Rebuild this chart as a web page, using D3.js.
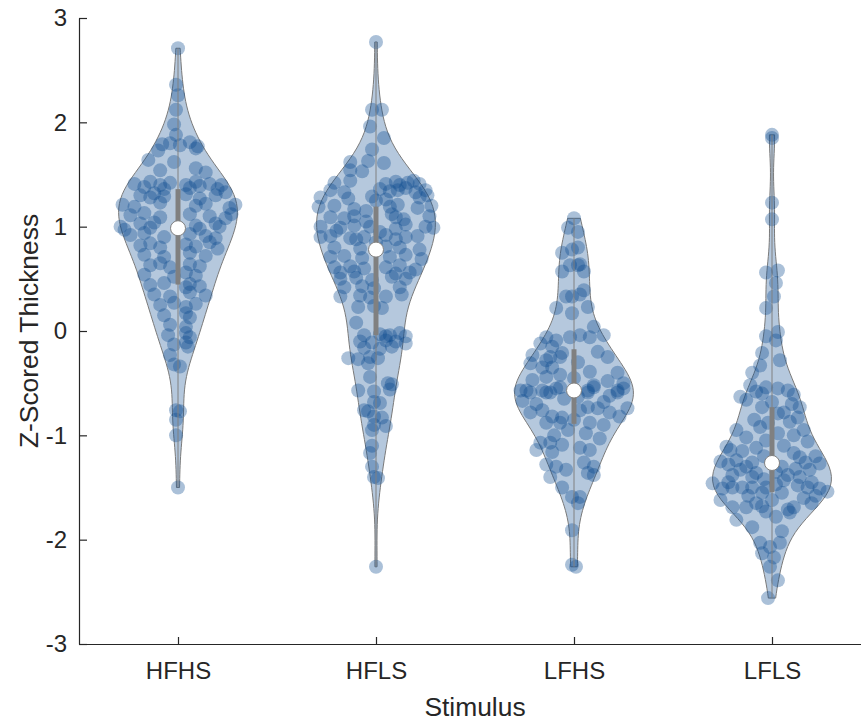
<!DOCTYPE html>
<html>
<head>
<meta charset="utf-8">
<script src="https://cdn.jsdelivr.net/npm/d3@7"></script>
<style>
body { margin: 0; background: #fff; }
svg { display: block; }
</style>
</head>
<body>
<script>
var categories = ["HFHS", "HFLS", "LFHS", "LFLS"];
var yTicks = [-3, -2, -1, 0, 1, 2, 3];

// each point: [z-scored thickness, horizontal jitter in category units]
var hfhs = [
  [2.71,0.00],[2.36,-0.01],[2.26,0.00],[2.12,-0.01],[1.98,-0.02],[1.88,-0.01],
  [1.79,-0.08],[1.80,-0.04],[1.78,0.01],[1.81,0.06],[1.77,0.10],
  [1.73,-0.10],[1.75,0.09],[1.64,-0.15],[1.62,-0.02],
  [1.54,-0.09],[1.56,0.09],[1.52,0.14],
  [1.41,-0.22],[1.38,-0.17],[1.43,-0.14],[1.40,-0.09],[1.36,-0.07],[1.42,-0.04],[1.40,0.04],
  [1.37,0.06],[1.43,0.09],[1.39,0.11],[1.41,0.16],[1.36,0.20],[1.40,0.22],
  [1.30,-0.19],[1.28,-0.14],[1.32,-0.12],[1.29,-0.07],[1.31,0.04],[1.27,0.11],[1.30,0.19],[1.33,0.24],
  [1.21,-0.28],[1.19,-0.22],[1.23,-0.09],[1.20,0.09],[1.22,0.14],[1.18,0.26],[1.21,0.29],
  [1.11,-0.24],[1.13,-0.17],[1.09,-0.09],[1.12,0.06],[1.10,0.16],[1.08,0.24],[1.12,0.27],
  [1.00,-0.29],[0.97,-0.27],[1.03,-0.19],[0.99,-0.14],[1.04,-0.12],[1.01,0.09],[0.98,0.11],[1.03,0.19],[1.00,0.21],
  [0.92,-0.24],[0.94,-0.17],[0.90,-0.07],[0.93,0.06],[0.91,0.14],[0.89,0.19],
  [0.82,-0.19],[0.84,-0.14],[0.80,-0.09],[0.83,0.04],[0.81,0.09],[0.85,0.16],[0.79,0.20],
  [0.73,-0.17],[0.71,-0.07],[0.75,0.06],[0.72,0.14],
  [0.63,-0.14],[0.65,-0.09],[0.61,-0.04],[0.64,0.06],[0.62,0.11],
  [0.54,-0.17],[0.52,-0.02],[0.56,0.04],[0.53,0.09],
  [0.44,-0.14],[0.46,-0.07],[0.42,0.04],[0.45,0.06],[0.43,0.11],
  [0.35,-0.12],[0.33,-0.04],[0.37,0.06],[0.34,0.14],
  [0.25,-0.09],[0.27,-0.02],[0.23,0.04],[0.26,0.09],
  [0.15,-0.07],[0.17,0.04],[0.13,0.06],[0.06,-0.04],[0.04,0.04],
  [-0.04,-0.05],[-0.02,0.04],[-0.06,0.06],[-0.13,-0.02],[-0.11,0.04],[-0.15,0.05],
  [-0.23,-0.04],[-0.32,-0.02],[-0.34,0.01],
  [-0.76,-0.01],[-0.77,0.01],[-0.85,-0.01],[-1.00,-0.01],[-1.50,0.00]
];

var hfls = [
  [2.77,0.00],[2.12,-0.02],[2.12,0.03],[1.96,-0.03],[1.85,0.04],[1.74,-0.02],
  [1.62,-0.13],[1.63,-0.04],[1.61,0.04],[1.54,-0.13],[1.53,-0.07],
  [1.42,-0.21],[1.44,-0.13],[1.41,0.05],[1.43,0.10],[1.40,0.12],[1.42,0.16],[1.44,0.19],[1.41,0.22],
  [1.35,-0.23],[1.33,-0.16],[1.36,0.02],[1.34,0.07],[1.35,0.11],[1.37,0.15],[1.33,0.20],[1.35,0.25],
  [1.28,-0.28],[1.27,-0.14],[1.29,-0.02],[1.26,0.05],[1.28,0.22],[1.30,0.26],[1.25,0.00],
  [1.19,-0.29],[1.20,-0.21],[1.17,-0.11],[1.19,0.07],[1.21,0.11],[1.18,0.21],[1.20,0.28],
  [1.15,-0.05],[1.12,0.08],
  [1.09,-0.23],[1.08,-0.16],[1.10,-0.11],[1.09,0.10],[1.07,0.14],[1.10,0.27],[1.05,-0.05],
  [1.00,-0.28],[0.99,-0.18],[1.01,-0.11],[1.00,-0.03],[0.98,0.10],[1.02,0.15],[1.00,0.25],[0.99,0.29],
  [0.95,0.02],[0.96,-0.20],
  [0.90,-0.28],[0.91,-0.23],[0.89,-0.13],[0.90,-0.06],[0.92,0.05],[0.88,0.10],[0.90,0.15],[0.91,0.21],
  [0.88,-0.10],[0.85,0.00],
  [0.80,-0.21],[0.79,-0.08],[0.81,0.05],[0.80,0.12],[0.78,0.22],
  [0.71,-0.23],[0.72,-0.16],[0.70,-0.07],[0.71,0.07],[0.73,0.15],[0.69,0.23],
  [0.61,-0.21],[0.62,-0.13],[0.60,-0.06],[0.61,0.05],[0.63,0.12],[0.59,0.20],
  [0.56,-0.18],[0.57,-0.11],[0.55,0.10],[0.56,0.17],
  [0.50,-0.18],[0.51,-0.10],[0.49,-0.02],[0.52,0.08],[0.50,0.15],
  [0.42,-0.16],[0.43,-0.07],[0.41,-0.01],[0.42,0.12],
  [0.33,-0.18],[0.34,-0.08],[0.32,-0.03],[0.33,0.05],[0.35,0.13],
  [0.23,-0.09],[0.24,-0.01],[0.22,0.03],[0.08,-0.10],
  [-0.04,-0.06],[-0.03,0.02],[-0.05,0.05],[-0.04,0.07],[-0.02,0.12],[-0.05,0.15],
  [-0.10,-0.08],[-0.11,-0.02],[-0.09,0.05],[-0.10,0.10],[-0.12,0.15],
  [-0.16,-0.06],[-0.17,0.02],[-0.15,0.08],
  [-0.26,-0.14],[-0.27,-0.09],[-0.25,-0.03],[-0.26,0.01],
  [-0.31,-0.04],[-0.44,-0.03],[-0.50,0.06],[-0.51,0.08],
  [-0.57,-0.09],[-0.58,-0.01],[-0.56,0.07],
  [-0.68,-0.01],[-0.69,0.02],[-0.76,-0.06],[-0.77,-0.04],
  [-0.82,-0.01],[-0.83,0.03],[-0.90,-0.01],[-0.91,0.05],[-0.95,-0.02],
  [-1.10,-0.02],[-1.17,-0.03],[-1.30,-0.02],[-1.40,-0.01],[-1.41,0.01],[-2.26,0.00]
];

var lfhs = [
  [1.08,0.00],[0.99,-0.03],[0.95,0.02],
  [0.75,-0.06],[0.78,-0.01],[0.80,0.02],
  [0.63,-0.02],[0.63,0.02],[0.64,0.03],[0.57,0.05],[0.57,-0.06],
  [0.33,-0.04],[0.33,-0.01],[0.35,0.03],[0.39,0.05],[0.23,0.07],[0.22,-0.09],[0.17,-0.01],
  [-0.06,-0.14],[-0.09,-0.09],[-0.15,-0.11],[-0.06,-0.02],[-0.04,0.03],[-0.06,0.08],[0.04,0.10],[-0.04,0.15],
  [-0.12,-0.17],[-0.23,-0.21],[-0.25,-0.12],[-0.25,-0.07],[-0.28,-0.14],[-0.21,-0.06],[-0.25,0.17],
  [-0.31,-0.22],[-0.35,-0.16],[-0.35,-0.11],[-0.30,0.02],[-0.20,0.12],
  [-0.47,-0.21],[-0.44,-0.14],[-0.42,-0.07],[-0.39,0.08],[-0.40,0.22],[-0.45,0.00],[-0.48,0.17],
  [-0.57,-0.27],[-0.57,-0.24],[-0.57,-0.16],[-0.59,-0.12],[-0.54,-0.07],[-0.59,0.07],[-0.52,0.10],[-0.59,0.22],[-0.55,0.25],
  [-0.59,-0.22],[-0.59,-0.14],[-0.55,-0.09],[-0.57,0.07],[-0.54,0.10],[-0.57,0.22],[-0.50,0.25],
  [-0.65,-0.05],[-0.68,0.15],[-0.70,-0.19],[-0.63,0.02],[-0.67,-0.26],[-0.62,0.18],
  [-0.78,-0.22],[-0.76,-0.16],[-0.82,-0.11],[-0.83,-0.06],[-0.76,0.03],[-0.73,0.07],[-0.74,0.12],[-0.78,0.18],[-0.82,0.23],[-0.74,0.27],
  [-0.85,0.00],[-0.88,-0.14],[-0.88,-0.07],[-0.88,0.08],[-0.90,0.15],[-0.95,-0.03],[-0.98,0.06],[-1.00,-0.10],
  [-1.07,-0.17],[-1.07,-0.12],[-1.09,-0.06],[-1.12,0.03],[-1.14,0.08],[-1.03,0.13],
  [-1.14,-0.19],[-1.16,-0.11],
  [-1.28,-0.14],[-1.30,-0.09],[-1.33,-0.04],[-1.26,0.05],[-1.30,0.10],[-1.36,0.07],
  [-1.40,-0.12],[-1.38,0.10],[-1.50,-0.06],
  [-1.59,-0.01],[-1.59,0.03],[-1.65,0.02],[-1.91,-0.01],[-2.24,-0.01],[-2.26,0.01]
];

var lfls = [
  [1.88,0.00],[1.85,0.00],[1.23,0.00],[1.07,0.00],
  [0.56,-0.03],[0.58,0.03],[0.46,0.02],[0.33,0.01],[0.22,-0.03],
  [-0.05,-0.03],[-0.01,0.03],[-0.09,0.02],[-0.21,-0.05],[-0.28,0.04],[-0.33,-0.06],
  [-0.40,-0.10],[-0.52,-0.11],[-0.58,-0.08],[-0.54,-0.03],[-0.55,0.03],[-0.57,0.08],[-0.61,0.11],
  [-0.60,-0.05],[-0.68,0.00],[-0.70,0.10],
  [-0.63,-0.16],[-0.66,-0.13],[-0.73,-0.05],[-0.79,0.03],[-0.78,0.06],[-0.73,0.14],[-0.83,0.13],
  [-0.85,-0.09],[-0.88,-0.02],[-0.87,0.09],[-0.95,0.16],
  [-0.95,-0.18],[-1.02,-0.13],[-0.92,-0.06],[-0.98,0.03],[-1.00,0.11],[-1.06,0.18],
  [-1.05,-0.03],[-1.10,0.06],[-1.15,-0.15],[-1.20,-0.04],[-1.12,-0.08],[-1.20,0.22],
  [-1.11,-0.23],[-1.14,-0.21],[-1.25,-0.26],[-1.24,-0.18],[-1.30,-0.13],[-1.26,-0.10],[-1.36,-0.08],
  [-1.17,0.11],[-1.21,0.14],[-1.26,0.17],[-1.33,0.19],[-1.27,0.24],
  [-1.35,0.02],[-1.38,-0.20],[-1.40,0.14],[-1.42,-0.04],
  [-1.30,0.05],[-1.33,-0.16],[-1.45,0.20],[-1.45,-0.22],[-1.38,0.08],[-1.28,-0.22],[-1.40,-0.10],[-1.32,0.12],
  [-1.46,-0.30],[-1.51,-0.25],[-1.50,-0.20],[-1.50,-0.15],[-1.50,-0.10],[-1.50,-0.03],[-1.43,0.06],
  [-1.48,0.13],[-1.50,0.18],[-1.51,0.24],[-1.54,0.28],[-1.47,0.02],
  [-1.55,0.05],[-1.58,-0.12],[-1.60,0.16],[-1.55,-0.05],[-1.58,0.22],
  [-1.62,-0.26],[-1.69,-0.20],[-1.69,-0.13],[-1.65,-0.08],[-1.73,-0.03],[-1.71,0.08],[-1.69,0.11],[-1.74,0.09],
  [-1.62,0.00],[-1.65,0.20],[-1.68,-0.05],
  [-1.78,0.02],[-1.81,-0.18],[-1.88,-0.10],[-1.92,0.05],
  [-2.13,-0.05],[-2.07,-0.01],[-2.17,0.01],[-2.03,-0.06],[-2.03,0.04],[-2.26,-0.01],[-2.39,0.03],[-2.56,-0.02]
];

var groups = [hfhs, hfls, lfhs, lfls];

var width = 861, height = 724;
var violinColor = "#0b4a8f";
var textColor = "#262626";
var font = "'Liberation Sans', Arial, Helvetica, sans-serif";

var svg = d3.select("body").append("svg")
  .attr("width", width)
  .attr("height", height);

var x = d3.scaleLinear().domain([0.5, 4.5]).range([79, 871]);
var y = d3.scaleLinear().domain([-3, 3]).range([644, 18]);

// kernel density like matlab ksdensity (normal kernel, default bandwidth)
function ksdensity(data) {
  var n = data.length;
  var med = d3.median(data);
  var mad = d3.median(data, function(d) { return Math.abs(d - med); });
  var bw = mad / 0.6745 * Math.pow(4 / (3 * n), 0.2);
  var lo = d3.min(data), hi = d3.max(data);
  return d3.range(100).map(function(i) {
    var v = lo + (hi - lo) * i / 99;
    var dens = d3.mean(data, function(d) {
      var u = (v - d) / bw;
      return Math.exp(-0.5 * u * u) / Math.sqrt(2 * Math.PI);
    }) / bw;
    return [v, dens];
  });
}

function quant(sorted, p) {
  var n = sorted.length, pos = n * p - 0.5;
  if (pos <= 0) return sorted[0];
  if (pos >= n - 1) return sorted[n - 1];
  var i = Math.floor(pos);
  return sorted[i] + (sorted[i + 1] - sorted[i]) * (pos - i);
}

var plot = svg.append("g");

groups.forEach(function(g, gi) {
  var pos = gi + 1;
  var vals = g.map(function(d) { return d[0]; });
  var sorted = vals.slice().sort(d3.ascending);
  var dens = ksdensity(vals);
  var w = 0.3 / d3.max(dens, function(d) { return d[1]; });

  var outline = dens.map(function(d) { return [pos + d[1] * w, d[0]]; })
    .concat(dens.slice().reverse().map(function(d) { return [pos - d[1] * w, d[0]]; }));

  var line = d3.line()
    .x(function(d) { return x(d[0]); })
    .y(function(d) { return y(d[1]); });

  plot.append("path")
    .attr("d", line(outline) + "Z")
    .attr("fill", violinColor)
    .attr("fill-opacity", 0.3)
    .attr("stroke", "#7a7a7a")
    .attr("stroke-width", 1);

  plot.append("g").selectAll("circle")
    .data(g)
    .enter().append("circle")
    .attr("cx", function(d) { return x(pos + d[1]); })
    .attr("cy", function(d) { return y(d[0]); })
    .attr("r", 7)
    .attr("fill", violinColor)
    .attr("fill-opacity", 0.35);

  // whisker, box, median
  plot.append("line")
    .attr("x1", x(pos)).attr("x2", x(pos))
    .attr("y1", y(sorted[0])).attr("y2", y(sorted[sorted.length - 1]))
    .attr("stroke", "#808080")
    .attr("stroke-width", 1);

  var q1 = quant(sorted, 0.25), q3 = quant(sorted, 0.75), med = quant(sorted, 0.5);
  plot.append("rect")
    .attr("x", x(pos - 0.0125))
    .attr("width", x(pos + 0.0125) - x(pos - 0.0125))
    .attr("y", y(q3))
    .attr("height", y(q1) - y(q3))
    .attr("fill", "#808080");

  plot.append("circle")
    .attr("cx", x(pos))
    .attr("cy", y(med))
    .attr("r", 7.5)
    .attr("fill", "#fff")
    .attr("stroke", "#808080")
    .attr("stroke-width", 1);
});

// axes
var yAxis = d3.axisLeft(y)
  .tickValues(yTicks)
  .tickFormat(d3.format("d"))
  .tickSizeInner(-8)
  .tickSizeOuter(0)
  .tickPadding(12);

var xAxis = d3.axisBottom(x)
  .tickValues([1, 2, 3, 4])
  .tickFormat(function(d) { return categories[d - 1]; })
  .tickSizeInner(-7)
  .tickSizeOuter(0)
  .tickPadding(18);

var gy = svg.append("g").attr("transform", "translate(79,0)").call(yAxis);
var gx = svg.append("g").attr("transform", "translate(0,644)").call(xAxis);

[gx, gy].forEach(function(ax) {
  ax.select(".domain").attr("stroke", textColor).attr("stroke-width", 1.2);
  ax.selectAll(".tick line").attr("stroke", textColor).attr("stroke-width", 1.2);
  ax.selectAll(".tick text")
    .attr("fill", textColor)
    .style("font-family", font)
    .style("font-size", "24px");
});
gy.selectAll(".tick text").text(function(d) { return d < 0 ? "-" + Math.abs(d) : d; });

svg.append("text")
  .attr("x", x(2.5))
  .attr("y", 716)
  .attr("text-anchor", "middle")
  .attr("fill", textColor)
  .style("font-family", font)
  .style("font-size", "26.4px")
  .text("Stimulus");

svg.append("text")
  .attr("transform", "translate(38," + y(0) + ") rotate(-90)")
  .attr("text-anchor", "middle")
  .attr("fill", textColor)
  .style("font-family", font)
  .style("font-size", "26.4px")
  .text("Z-Scored Thickness");
</script>
</body>
</html>
